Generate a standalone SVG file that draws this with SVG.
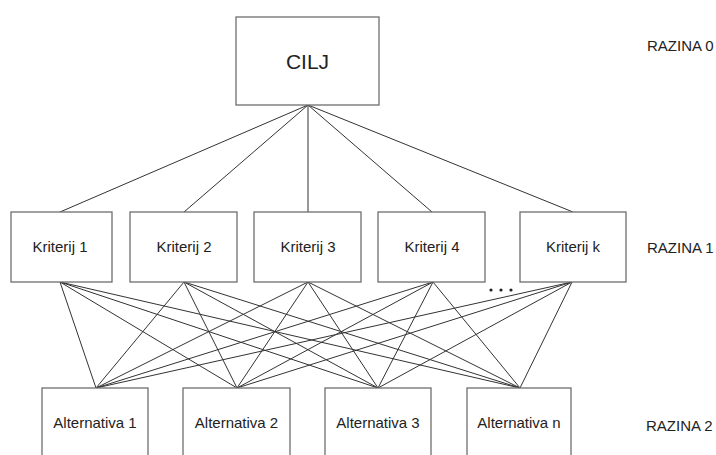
<svg xmlns="http://www.w3.org/2000/svg" width="716" height="455" viewBox="0 0 716 455">
<style>
.box{fill:#ffffff;stroke:#6e6e6e;stroke-width:1.3}
.t{font-family:"Liberation Sans",Arial,sans-serif;font-size:15px;fill:#222;text-anchor:middle}
.lvl{font-family:"Liberation Sans",Arial,sans-serif;font-size:15px;fill:#222}
.c{stroke:#333;stroke-width:1;fill:none}
</style>
<rect width="716" height="455" fill="#ffffff"/>
<g id="connectors" class="c">
<line x1="308" y1="105" x2="60" y2="212"/>
<line x1="308" y1="105" x2="184" y2="212"/>
<line x1="308" y1="105" x2="308" y2="212"/>
<line x1="308" y1="105" x2="432" y2="212"/>
<line x1="308" y1="105" x2="573" y2="212"/>
<line x1="60" y1="282" x2="96" y2="388"/>
<line x1="60" y1="282" x2="237" y2="388"/>
<line x1="60" y1="282" x2="378" y2="388"/>
<line x1="60" y1="282" x2="520" y2="388"/>
<line x1="184" y1="282" x2="96" y2="388"/>
<line x1="184" y1="282" x2="237" y2="388"/>
<line x1="184" y1="282" x2="378" y2="388"/>
<line x1="184" y1="282" x2="520" y2="388"/>
<line x1="308" y1="282" x2="96" y2="388"/>
<line x1="308" y1="282" x2="237" y2="388"/>
<line x1="308" y1="282" x2="378" y2="388"/>
<line x1="308" y1="282" x2="520" y2="388"/>
<line x1="433" y1="282" x2="96" y2="388"/>
<line x1="433" y1="282" x2="237" y2="388"/>
<line x1="433" y1="282" x2="378" y2="388"/>
<line x1="433" y1="282" x2="520" y2="388"/>
<line x1="572" y1="282" x2="96" y2="388"/>
<line x1="572" y1="282" x2="237" y2="388"/>
<line x1="572" y1="282" x2="378" y2="388"/>
<line x1="572" y1="282" x2="520" y2="388"/>
</g>
<g id="cilj"><rect class="box" x="236" y="17" width="143" height="88"/><text class="t" x="307.5" y="69" style="font-size:21px">CILJ</text></g>
<g id="kriterij1"><rect class="box" x="11" y="212" width="101" height="70"/><text class="t" x="60" y="252">Kriterij 1</text></g>
<g id="kriterij2"><rect class="box" x="130" y="212" width="107" height="70"/><text class="t" x="184" y="252">Kriterij 2</text></g>
<g id="kriterij3"><rect class="box" x="254" y="212" width="107" height="70"/><text class="t" x="308" y="252">Kriterij 3</text></g>
<g id="kriterij4"><rect class="box" x="378" y="212" width="107" height="70"/><text class="t" x="432" y="252">Kriterij 4</text></g>
<g id="kriterijk"><rect class="box" x="520" y="212" width="106" height="70"/><text class="t" x="573" y="252">Kriterij k</text></g>
<g id="dots" fill="#222"><circle cx="491" cy="290" r="1.6"/><circle cx="501" cy="290" r="1.6"/><circle cx="511" cy="290" r="1.6"/></g>
<g id="alt1"><rect class="box" x="42" y="388" width="106" height="80"/><text class="t" x="95" y="428">Alternativa 1</text></g>
<g id="alt2"><rect class="box" x="183" y="388" width="107" height="80"/><text class="t" x="236.5" y="428">Alternativa 2</text></g>
<g id="alt3"><rect class="box" x="325" y="388" width="106" height="80"/><text class="t" x="378" y="428">Alternativa 3</text></g>
<g id="altn"><rect class="box" x="467" y="388" width="104" height="80"/><text class="t" x="519" y="428">Alternativa n</text></g>
<g id="levels">
<text class="lvl" x="647" y="51">RAZINA 0</text>
<text class="lvl" x="647" y="253">RAZINA 1</text>
<text class="lvl" x="646" y="431">RAZINA 2</text>
</g>
</svg>
